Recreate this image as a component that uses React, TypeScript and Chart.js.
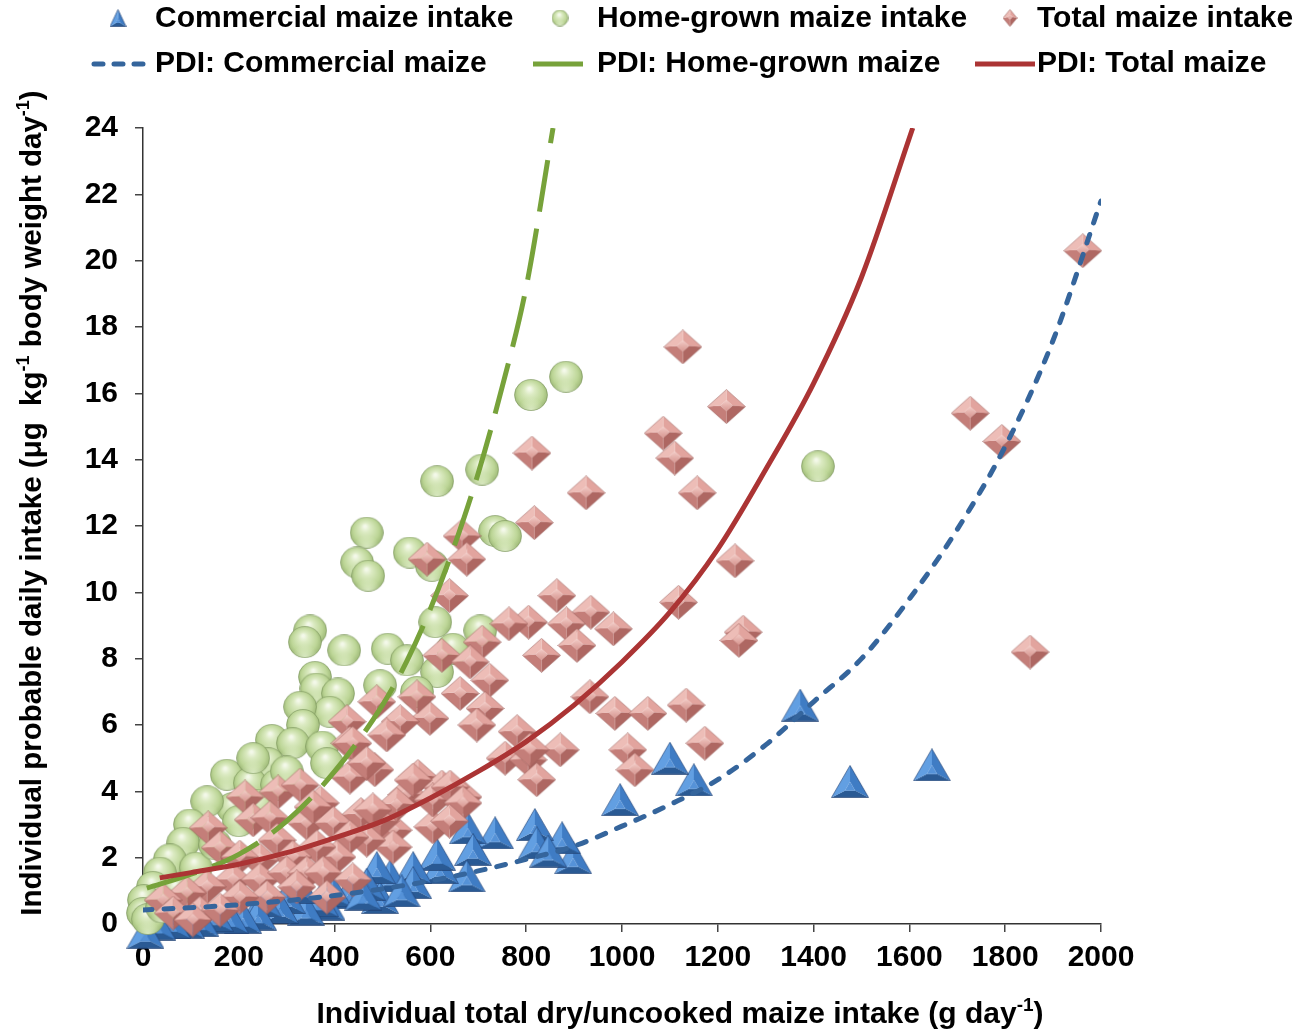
import React, { useEffect, useRef } from 'react';
import { Chart, registerables } from 'chart.js';

Chart.register(...registerables);

// ---------- data ----------
const xTickValues = [0, 200, 400, 600, 800, 1000, 1200, 1400, 1600, 1800, 2000];
const yTickValues = [0, 2, 4, 6, 8, 10, 12, 14, 16, 18, 20, 22, 24];

const xAxisTitle = ['Individual total dry/uncooked maize intake (g day', '-1', ')'];
const yAxisTitle = ['Individual probable daily intake (\u03bcg  kg', '-1', ' body weight day', '-1', ')'];

const pointLabels = ['Commercial maize intake', 'Home-grown maize intake', 'Total maize intake'];
const lineLabels = ['PDI: Commercial maize', 'PDI: Home-grown maize', 'PDI: Total maize'];

const commercialIntake: [number, number][] = [
  [1647, 4.8], [1476, 4.3], [1372, 6.6], [1150, 4.35], [1100, 5.0], [996, 3.75], [898, 2.0],
  [875, 2.6], [818, 3.0], [822, 2.45], [846, 2.2], [735, 2.75], [678, 2.9], [689, 2.25],
  [676, 1.45], [620, 1.7], [614, 2.1], [564, 1.7], [564, 1.25], [516, 1.45], [495, 0.8],
  [488, 1.7], [467, 1.2], [430, 0.95], [397, 1.0], [383, 0.6], [370, 0.7], [340, 0.45],
  [328, 1.1], [300, 0.8], [286, 0.5], [250, 0.7], [240, 0.3], [209, 0.2], [182, 0.2],
  [150, 0.25], [120, 0.1], [90, 0.05], [60, 0.05], [30, 0.0], [5, -0.25], [540, 1.0], [460, 0.9],
];

const homeGrownIntake: [number, number][] = [
  [1409, 13.8], [883, 16.5], [810, 15.95], [708, 13.7], [614, 13.35], [735, 11.85], [756, 11.7],
  [467, 11.8], [447, 10.9], [470, 10.5], [557, 11.2], [603, 10.8], [610, 9.1], [704, 8.85],
  [349, 8.85], [338, 8.5], [420, 8.25], [511, 8.3], [551, 7.95], [614, 7.6], [647, 8.3],
  [359, 7.45], [362, 7.1], [407, 6.95], [390, 6.4], [495, 7.2], [572, 7.0], [328, 6.55],
  [334, 6.0], [269, 5.55], [313, 5.45], [374, 5.35], [261, 4.85], [384, 4.85], [175, 4.5],
  [223, 4.25], [280, 4.2], [188, 3.5], [134, 3.7], [98, 3.0], [84, 2.45], [56, 1.95], [35, 1.55],
  [21, 1.12], [2, 0.72], [0, 0.33], [10, 0.15], [40, 0.5], [70, 1.0], [110, 1.7], [150, 2.4],
  [200, 3.1], [240, 3.6], [300, 4.6], [230, 5.0],
];

const totalIntake: [number, number][] = [
  [1962, 20.3], [1127, 17.4], [1218, 15.6], [1727, 15.4], [1793, 14.55], [812, 14.2], [1086, 14.8],
  [1110, 14.05], [1157, 13.0], [925, 13.0], [817, 12.1], [1236, 10.95], [1118, 9.7], [864, 9.9],
  [1253, 8.8], [1244, 8.55], [1852, 8.2], [935, 9.4], [982, 8.9], [884, 9.05], [906, 8.4],
  [832, 8.1], [805, 9.1], [764, 9.05], [933, 6.85], [985, 6.35], [1054, 6.35], [1134, 6.6],
  [1173, 5.45], [1012, 5.25], [1027, 4.65], [871, 5.25], [781, 5.8], [756, 5.0], [804, 4.95],
  [822, 4.35], [666, 11.7], [676, 11.0], [593, 11.0], [640, 9.9], [624, 8.1], [708, 8.5],
  [683, 7.9], [724, 7.35], [662, 6.95], [714, 6.5], [697, 6.0], [599, 6.2], [572, 6.85],
  [537, 6.1], [488, 6.7], [426, 6.1], [509, 5.7], [432, 5.45], [484, 4.65], [574, 4.45],
  [624, 4.13], [668, 3.83], [551, 3.9], [605, 2.93], [522, 2.83], [522, 2.32], [605, 3.74],
  [641, 4.13], [668, 3.65], [564, 4.34], [808, 5.25], [495, 3.1], [455, 3.3], [530, 3.6],
  [640, 3.1], [136, 2.9], [161, 2.3], [213, 3.83], [230, 3.14], [282, 3.98], [328, 4.19],
  [370, 3.65], [265, 3.2], [280, 2.53], [342, 3.04], [397, 3.04], [432, 4.43], [438, 5.45],
  [467, 4.85], [480, 3.44], [467, 2.53], [432, 2.62], [405, 2.02], [363, 2.32], [313, 2.02],
  [244, 1.93], [202, 2.02], [188, 1.33], [244, 1.33], [300, 1.54], [342, 1.54], [376, 1.54],
  [438, 1.33], [384, 0.81], [321, 1.12], [259, 0.81], [202, 0.81], [134, 1.12], [92, 0.93],
  [42, 0.72], [63, 0.33], [119, 0.33], [161, 0.42], [104, 0.12], [355, 3.53],
];

const pdiCommercial: [number, number][] = [
  [0, 0.42], [200, 0.58], [400, 0.86], [600, 1.3], [700, 1.6], [800, 1.95], [900, 2.35],
  [1000, 2.95], [1100, 3.6], [1200, 4.35], [1300, 5.4], [1400, 6.7], [1500, 8.0], [1600, 9.8],
  [1700, 11.9], [1800, 14.4], [1900, 17.6], [2000, 21.8],
];
const pdiHomeGrown: [number, number][] = [
  [8, 1.08], [100, 1.5], [200, 2.1], [300, 3.1], [400, 4.6], [500, 6.6], [550, 7.9], [600, 9.5],
  [650, 11.4], [700, 13.6], [750, 16.2], [800, 19.2], [856, 24],
];
const pdiTotal: [number, number][] = [
  [35, 1.39], [100, 1.55], [200, 1.8], [300, 2.15], [400, 2.6], [500, 3.1], [600, 3.8],
  [700, 4.6], [800, 5.5], [900, 6.6], [1000, 7.9], [1100, 9.4], [1200, 11.3], [1300, 13.7],
  [1400, 16.3], [1500, 19.5], [1607, 24],
];

// ---------- styling ----------
const FONT = "'Liberation Sans', Arial, Helvetica, sans-serif";
const BLUE_LINE = '#35659c';
const GREEN_LINE = '#77a23a';
const RED_LINE = '#ab3434';

function makeSphere(w: number, h: number) {
  const c = document.createElement('canvas');
  c.width = w;
  c.height = h;
  const g = c.getContext('2d')!;
  g.beginPath();
  g.ellipse(w / 2, h / 2, w / 2 - 0.5, h / 2 - 0.5, 0, 0, Math.PI * 2);
  const grad = g.createRadialGradient(w * 0.45, h * 0.3, 1, w * 0.5, h * 0.5, w * 0.56);
  grad.addColorStop(0, '#f4f9ea');
  grad.addColorStop(0.22, '#dcebc3');
  grad.addColorStop(0.65, '#bdd697');
  grad.addColorStop(1, '#8fab68');
  g.fillStyle = grad;
  g.fill();
  const g2 = g.createRadialGradient(w * 0.5, h * 0.98, 1, w * 0.5, h * 0.98, w * 0.38);
  g2.addColorStop(0, 'rgba(232,244,212,0.75)');
  g2.addColorStop(1, 'rgba(232,244,212,0)');
  g.fillStyle = g2;
  g.fill();
  g.lineWidth = 1;
  g.strokeStyle = 'rgba(115,140,85,0.55)';
  g.stroke();
  return c;
}

function makeDiamond(w: number, h: number) {
  const c = document.createElement('canvas');
  c.width = w;
  c.height = h;
  const g = c.getContext('2d')!;
  const cx = w / 2, cy = h / 2;
  const outer = [[cx, 0.5], [w - 0.5, cy], [cx, h - 0.5], [0.5, cy]];
  const k = 0.32;
  const inner = outer.map(([x, y]) => [cx + (x - cx) * k, cy - 1 + (y - cy) * k]);
  const facet = ['#e2a49e', '#ae6762', '#c47e79', '#edbdb7'];
  for (let i = 0; i < 4; i++) {
    const j = (i + 1) % 4;
    g.beginPath();
    g.moveTo(outer[i][0], outer[i][1]);
    g.lineTo(outer[j][0], outer[j][1]);
    g.lineTo(inner[j][0], inner[j][1]);
    g.lineTo(inner[i][0], inner[i][1]);
    g.closePath();
    g.fillStyle = facet[i];
    g.fill();
  }
  g.beginPath();
  inner.forEach(([x, y], i) => (i ? g.lineTo(x, y) : g.moveTo(x, y)));
  g.closePath();
  const gi = g.createLinearGradient(cx, cy - 6, cx, cy + 6);
  gi.addColorStop(0, '#f1c9c4');
  gi.addColorStop(1, '#d48f89');
  g.fillStyle = gi;
  g.fill();
  g.beginPath();
  outer.forEach(([x, y], i) => (i ? g.lineTo(x, y) : g.moveTo(x, y)));
  g.closePath();
  g.lineWidth = 1;
  g.strokeStyle = 'rgba(150,90,85,0.5)';
  g.stroke();
  return c;
}

function makeTriangle(w: number, h: number) {
  const c = document.createElement('canvas');
  c.width = w;
  c.height = h;
  const g = c.getContext('2d')!;
  const outer = [[w / 2, 0.5], [w - 0.5, h - 0.5], [0.5, h - 0.5]];
  const cx = w / 2, cy = h * 0.7;
  const k = 0.28;
  const inner = outer.map(([x, y]) => [cx + (x - cx) * k, cy + (y - cy) * k]);
  const facet = ['#3f7cc4', '#2a5a94', '#629fe2'];
  for (let i = 0; i < 3; i++) {
    const j = (i + 1) % 3;
    g.beginPath();
    g.moveTo(outer[i][0], outer[i][1]);
    g.lineTo(outer[j][0], outer[j][1]);
    g.lineTo(inner[j][0], inner[j][1]);
    g.lineTo(inner[i][0], inner[i][1]);
    g.closePath();
    g.fillStyle = facet[i];
    g.fill();
  }
  g.beginPath();
  inner.forEach(([x, y], i) => (i ? g.lineTo(x, y) : g.moveTo(x, y)));
  g.closePath();
  g.fillStyle = '#5592d8';
  g.fill();
  g.beginPath();
  outer.forEach(([x, y], i) => (i ? g.lineTo(x, y) : g.moveTo(x, y)));
  g.closePath();
  g.lineWidth = 1;
  g.strokeStyle = 'rgba(30,60,110,0.6)';
  g.stroke();
  return c;
}

function drawRich(ctx: CanvasRenderingContext2D, parts: string[], size: number, cx: number, cy: number) {
  // parts alternate normal / superscript
  const main = `bold ${size}px ${FONT}`;
  const sup = `bold ${Math.round(size * 0.62)}px ${FONT}`;
  let total = 0;
  const widths = parts.map((p, i) => {
    ctx.font = i % 2 ? sup : main;
    const w = ctx.measureText(p).width;
    total += w;
    return w;
  });
  let x = cx - total / 2;
  ctx.textAlign = 'left';
  ctx.textBaseline = 'alphabetic';
  const base = cy + size * 0.36;
  parts.forEach((p, i) => {
    ctx.font = i % 2 ? sup : main;
    ctx.fillText(p, x, i % 2 ? base - size * 0.38 : base);
    x += widths[i];
  });
}

export default function App() {
  const ref = useRef<HTMLCanvasElement | null>(null);

  useEffect(() => {
    document.body.style.margin = '0';
    const canvas = ref.current!;
    const tri = makeTriangle(38, 33);
    const sph = makeSphere(34, 32);
    const dia = makeDiamond(39, 35);
    const triSmall = makeTriangle(17, 18);
    const sphSmall = makeSphere(17, 17);
    const diaSmall = makeDiamond(15, 18);

    const overlay = {
      id: 'overlay',
      afterDraw(chart: any) {
        const ctx: CanvasRenderingContext2D = chart.ctx;
        ctx.save();
        ctx.fillStyle = '#000';
        // legend row 1 (markers)
        const icons = [triSmall, sphSmall, diaSmall];
        const iconX = [118, 560, 1010];
        const textX = [155, 597, 1037];
        ctx.font = `bold 30px ${FONT}`;
        ctx.textBaseline = 'middle';
        ctx.textAlign = 'left';
        pointLabels.forEach((t, i) => {
          const im = icons[i];
          ctx.drawImage(im, iconX[i] - im.width / 2, 18 - im.height / 2);
          ctx.fillText(t, textX[i], 19);
        });
        // legend row 2 (lines)
        const lineSpec = [
          { c: BLUE_LINE, dash: [9, 11], x0: 94, x1: 150, cap: 'round' },
          { c: GREEN_LINE, dash: [], x0: 533, x1: 583, cap: 'butt' },
          { c: RED_LINE, dash: [], x0: 975, x1: 1035, cap: 'butt' },
        ];
        lineLabels.forEach((t, i) => {
          const s = lineSpec[i];
          ctx.save();
          ctx.strokeStyle = s.c;
          ctx.lineWidth = 5;
          ctx.lineCap = s.cap as CanvasLineCap;
          ctx.setLineDash(s.dash);
          ctx.beginPath();
          ctx.moveTo(s.x0, 64);
          ctx.lineTo(s.x1, 64);
          ctx.stroke();
          ctx.restore();
          ctx.font = `bold 30px ${FONT}`;
          ctx.textBaseline = 'middle';
          ctx.textAlign = 'left';
          ctx.fillText(t, textX[i], 64);
        });
        // axis titles
        drawRich(ctx, xAxisTitle, 30, 680, 1012);
        ctx.save();
        ctx.translate(30, 503);
        ctx.rotate(-Math.PI / 2);
        drawRich(ctx, yAxisTitle, 29.5, 0, 0);
        ctx.restore();
        ctx.restore();
      },
    };

    const markerDataset = (label: string, data: [number, number][], img: HTMLCanvasElement, order: number) => ({
      label,
      data: data.map(([x, y]) => ({ x, y })),
      pointStyle: img,
      pointRadius: 18,
      showLine: false,
      clip: false as const,
      order,
    });
    const lineDataset = (label: string, data: [number, number][], color: string, dash: number[], cap: string, order: number) => ({
      label,
      data: data.map(([x, y]) => ({ x, y })),
      showLine: true,
      borderColor: color,
      borderWidth: 5,
      borderDash: dash,
      borderCapStyle: cap,
      pointRadius: 0,
      cubicInterpolationMode: 'monotone' as const,
      fill: false,
      order,
    });

    const tickFont = { family: FONT, size: 30, weight: 'bold' as const };

    const chart = new Chart(canvas, {
      type: 'scatter',
      data: {
        datasets: [
          markerDataset(pointLabels[0], commercialIntake, tri, 6),
          markerDataset(pointLabels[1], homeGrownIntake, sph, 5),
          markerDataset(pointLabels[2], totalIntake, dia, 4),
          lineDataset(lineLabels[0], pdiCommercial, BLUE_LINE, [9, 12], 'round', 3),
          lineDataset(lineLabels[1], pdiHomeGrown, GREEN_LINE, [52, 17], 'butt', 2),
          lineDataset(lineLabels[2], pdiTotal, RED_LINE, [], 'butt', 1),
        ] as any,
      },
      options: {
        animation: false,
        responsive: false,
        events: [],
        layout: { padding: { left: 0, top: 128, right: 201, bottom: 0 } },
        plugins: { legend: { display: false }, tooltip: { enabled: false }, title: { display: false } },
        scales: {
          x: {
            type: 'linear',
            min: 0,
            max: 2000,
            afterBuildTicks: (s: any) => {
              s.ticks = xTickValues.map((v) => ({ value: v }));
            },
            afterFit: (s: any) => {
              s.height = 106;
            },
            ticks: {
              color: '#000',
              font: tickFont,
              padding: 8,
              maxRotation: 0,
              autoSkip: false,
              callback: (v: any) => String(v),
            },
            grid: { drawOnChartArea: false, drawTicks: true, tickLength: 8, color: '#444', lineWidth: 1.5 },
            border: { color: '#333', width: 1.5 },
          },
          y: {
            type: 'linear',
            min: 0,
            max: 24,
            afterBuildTicks: (s: any) => {
              s.ticks = yTickValues.map((v) => ({ value: v }));
            },
            afterFit: (s: any) => {
              s.width = 143;
            },
            ticks: { color: '#000', font: tickFont, padding: 17, autoSkip: false, callback: (v: any) => String(v) },
            grid: { drawOnChartArea: false, drawTicks: true, tickLength: 8, color: '#444', lineWidth: 1.5 },
            border: { color: '#333', width: 1.5 },
          },
        },
      } as any,
      plugins: [overlay],
    });
    return () => chart.destroy();
  }, []);

  return (
    <div style={{ width: 1302, height: 1030, background: '#fff' }}>
      <canvas ref={ref} width={1302} height={1030} style={{ display: 'block', width: 1302, height: 1030 }} />
    </div>
  );
}
